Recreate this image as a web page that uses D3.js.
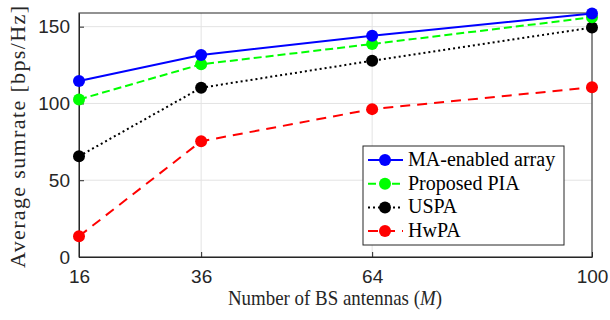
<!DOCTYPE html>
<html>
<head>
<meta charset="UTF-8">
<style>
  body { margin: 0; background: #fff; }
  svg { display: block; }
</style>
</head>
<body>
<svg id="chart" width="610" height="320"></svg>
<script src="https://d3js.org/d3.v7.min.js"></script>
<script>
// data
var antennas = [16, 36, 64, 100];
var maEnabled = [114.6, 131.5, 144.1, 158.5];
var proposedPIA = [102.6, 125.5, 138.7, 156.1];
var uspa = [65.6, 110.2, 127.8, 149.4];
var hwpa = [13.5, 75.4, 96.3, 110.5];
var yTicks = [0, 50, 100, 150];

var series = [
  { name: 'MA-enabled array', values: maEnabled, color: '#0000ff', dash: null },
  { name: 'Proposed PIA', values: proposedPIA, color: '#00ff00', dash: '8,4' },
  { name: 'USPA', values: uspa, color: '#000000', dash: '2,3' },
  { name: 'HwPA', values: hwpa, color: '#ff0000', dash: '10,7' }
];

var svg = d3.select('#chart');
var pLeft = 79, pRight = 592, pTop = 13, pBottom = 257;

var x = d3.scaleLinear().domain([16, 100]).range([pLeft, pRight]);
var y = d3.scaleLinear().domain([0, 158.9]).range([pBottom, pTop]);

// grid
svg.append('g').selectAll('line').data(antennas).enter().append('line')
  .attr('x1', function(d) { return x(d); }).attr('x2', function(d) { return x(d); })
  .attr('y1', pTop).attr('y2', pBottom)
  .attr('stroke', '#e3e3e3').attr('stroke-width', 1);
svg.append('g').selectAll('line').data(yTicks).enter().append('line')
  .attr('x1', pLeft).attr('x2', pRight)
  .attr('y1', function(d) { return y(d); }).attr('y2', function(d) { return y(d); })
  .attr('stroke', '#e3e3e3').attr('stroke-width', 1);

// frame
svg.append('rect').attr('x', pLeft).attr('y', pTop)
  .attr('width', pRight - pLeft).attr('height', pBottom - pTop)
  .attr('fill', 'none').attr('stroke', '#262626').attr('stroke-width', 1);

// axes
var xAxis = d3.axisBottom(x).tickValues(antennas).tickSizeInner(-5).tickSizeOuter(0).tickPadding(13);
var yAxis = d3.axisLeft(y).tickValues(yTicks).tickSizeInner(-5).tickSizeOuter(0).tickPadding(9);

var gx = svg.append('g').attr('transform', 'translate(0,' + pBottom + ')').call(xAxis);
var gy = svg.append('g').attr('transform', 'translate(' + pLeft + ',0)').call(yAxis);
[gx, gy].forEach(function(g) {
  g.select('.domain').attr('stroke', '#262626');
  g.selectAll('.tick line').attr('stroke', '#262626');
  g.selectAll('.tick text').attr('fill', '#262626')
    .style('font-family', '"Liberation Sans", Arial, sans-serif').style('font-size', '19px');
});

// lines and markers
var line = d3.line()
  .x(function(d, i) { return x(antennas[i]); })
  .y(function(d) { return y(d); });

series.slice().reverse().forEach(function(s) {
  svg.append('path').datum(s.values)
    .attr('d', line)
    .attr('fill', 'none')
    .attr('stroke', s.color)
    .attr('stroke-width', 2)
    .attr('stroke-dasharray', s.dash);
  svg.append('g').selectAll('circle').data(s.values).enter().append('circle')
    .attr('cx', function(d, i) { return x(antennas[i]); })
    .attr('cy', function(d) { return y(d); })
    .attr('r', 6)
    .attr('fill', s.color);
});

// axis labels
var serif = '"Liberation Serif", "Times New Roman", serif';
var xl = svg.append('text').attr('transform', 'translate(335,305) scale(0.9,1)')
  .attr('text-anchor', 'middle')
  .style('font-family', serif).style('font-size', '21px').attr('fill', '#262626');
xl.append('tspan').text('Number of BS antennas (');
xl.append('tspan').style('font-style', 'italic').text('M');
xl.append('tspan').text(')');

svg.append('text').attr('transform', 'translate(25,' + 137 + ') rotate(-90)')
  .attr('text-anchor', 'middle')
  .attr('textLength', 262).attr('lengthAdjust', 'spacing')
  .style('font-family', serif).style('font-size', '22px').attr('fill', '#262626')
  .text('Average sumrate [bps/Hz]');

// legend
var lg = svg.append('g').attr('transform', 'translate(363,146)');
lg.append('rect').attr('width', 201).attr('height', 99)
  .attr('fill', '#fff').attr('stroke', '#262626').attr('stroke-width', 1);
series.forEach(function(s, i) {
  var ly = 14 + i * 23.7;
  lg.append('line').attr('x1', 5).attr('x2', 40).attr('y1', ly).attr('y2', ly)
    .attr('stroke', s.color).attr('stroke-width', 2).attr('stroke-dasharray', s.dash);
  lg.append('circle').attr('cx', 22).attr('cy', ly).attr('r', 6).attr('fill', s.color);
  lg.append('text').attr('x', 45).attr('y', ly + 6)
    .style('font-family', serif).style('font-size', '20px').attr('fill', '#000')
    .text(s.name);
});
</script>
</body>
</html>
